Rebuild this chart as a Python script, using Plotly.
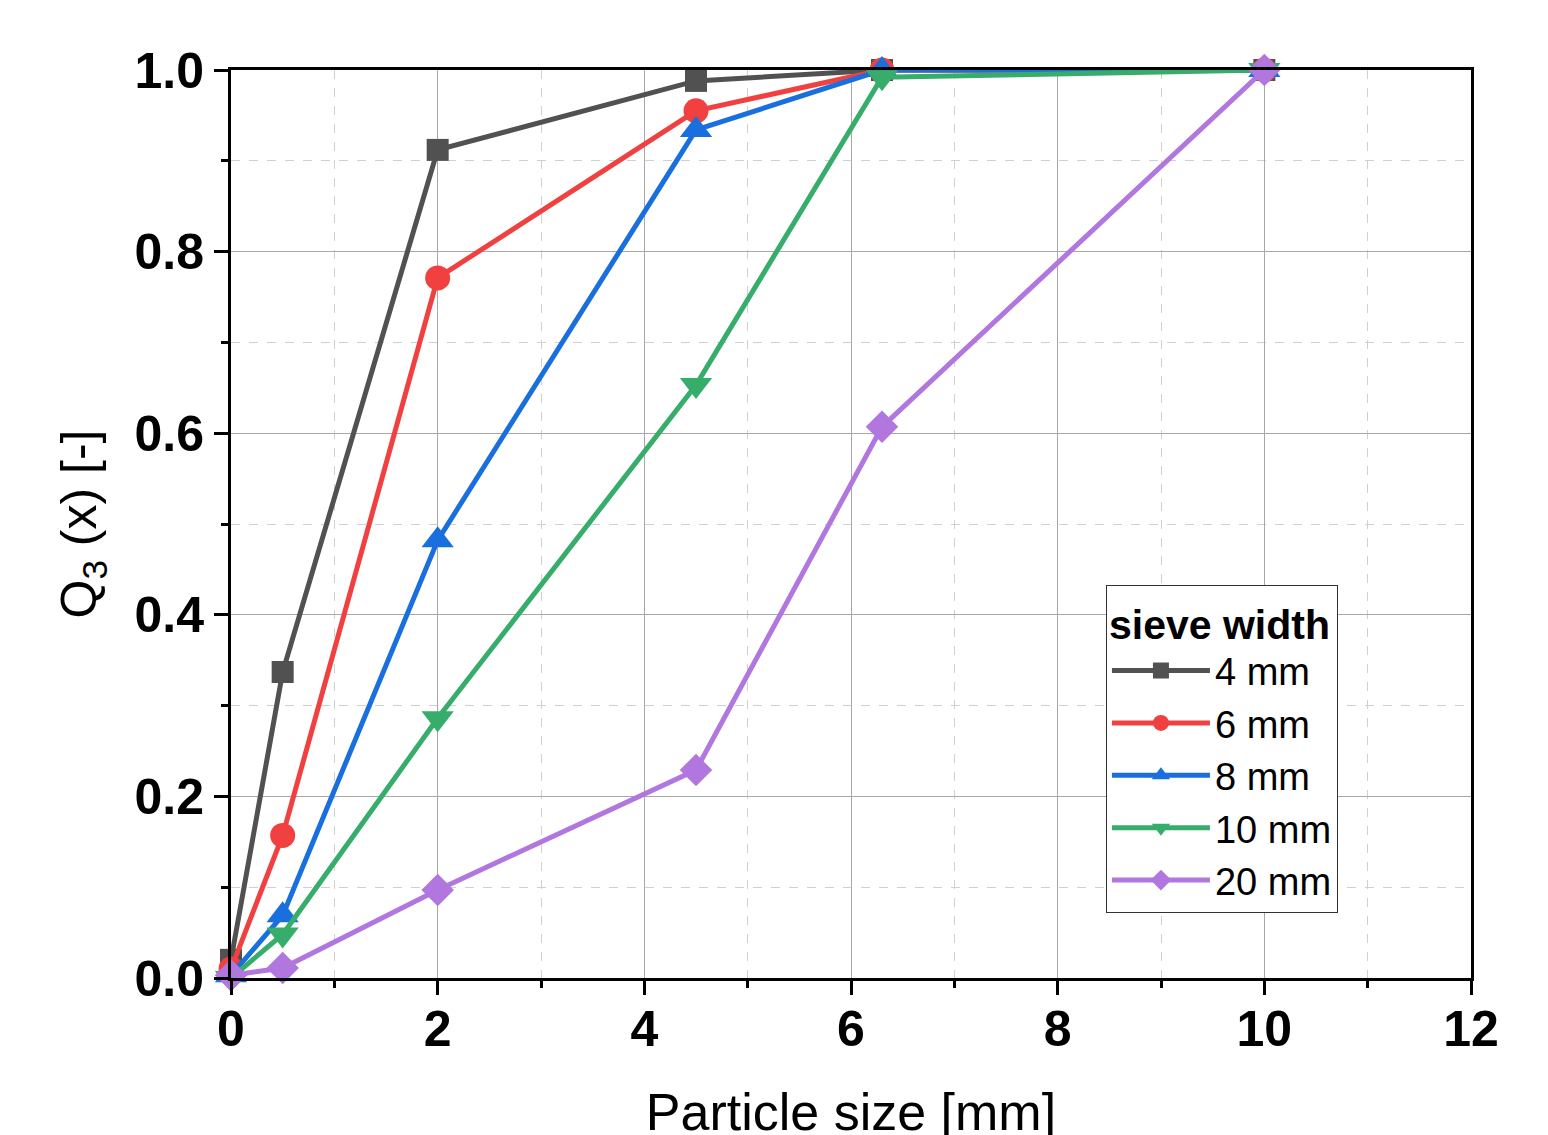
import plotly.graph_objects as go

x_sizes = [0, 0.5, 2, 4.5, 6.3, 10]
series_names = ["4 mm", "6 mm", "8 mm", "10 mm", "20 mm"]
q3_4mm = [0.02, 0.337, 0.912, 0.988, 1.0, 1.0]
q3_6mm = [0.01, 0.157, 0.771, 0.955, 1.0, 1.0]
q3_8mm = [0.003, 0.069, 0.482, 0.934, 1.0, 1.0]
q3_10mm = [0.0, 0.048, 0.286, 0.653, 0.992, 1.0]
q3_20mm = [0.003, 0.011, 0.097, 0.229, 0.607, 1.0]
series_values = [q3_4mm, q3_6mm, q3_8mm, q3_10mm, q3_20mm]
colors = ["#515151", "#F14040", "#1A6FDF", "#37AD6B", "#B177DE"]
symbols = ["square", "circle", "triangle-up", "triangle-down", "diamond"]
msizes = [22, 25, 28, 28, 25]

x_ticks = [0, 2, 4, 6, 8, 10, 12]
y_ticks = [0.0, 0.2, 0.4, 0.6, 0.8, 1.0]

FONT = "Liberation Sans, Arial, sans-serif"

fig = go.Figure()
for name, vals, c, s, ms in zip(series_names, series_values, colors, symbols, msizes):
    fig.add_trace(go.Scatter(
        x=x_sizes, y=vals, name=name, mode="lines+markers",
        line=dict(color=c, width=5),
        marker=dict(symbol=s, size=ms, color=c, line=dict(width=0)),
        cliponaxis=False,
    ))

axis_common = dict(showline=True, linecolor="black", linewidth=3, mirror=True,
                   ticks="outside", ticklen=14, tickwidth=3, tickcolor="black",
                   zeroline=False, showgrid=True, gridcolor="#a8a8a8", gridwidth=1,
                   automargin=False,
                   tickfont=dict(family=FONT, size=50, color="black", weight="bold"))

fig.update_layout(
    width=1548, height=1135,
    paper_bgcolor="white", plot_bgcolor="white",
    margin=dict(l=223, r=85, t=62, b=165, autoexpand=False),
    font=dict(family=FONT, color="black"),
    xaxis=dict(range=[0, 12], tickvals=x_ticks, ticktext=[str(v) for v in x_ticks],
               ticklabelstandoff=-9,
               title=dict(text="Particle size [mm]", font=dict(family=FONT, size=52), standoff=38),
               minor=dict(dtick=1, tick0=0, ticks="outside", ticklen=7, tickwidth=3, tickcolor="black",
                          showgrid=True, gridcolor="#d0d0d0", griddash="dash", gridwidth=1),
               **axis_common),
    yaxis=dict(range=[0, 1.0], tickvals=y_ticks, ticktext=[f"{v:.1f}" for v in y_ticks],
               title=dict(text="Q<sub>3</sub> (x) [-]", font=dict(family=FONT, size=50), standoff=22),
               minor=dict(dtick=0.1, tick0=0, ticks="outside", ticklen=7, tickwidth=3, tickcolor="black",
                          showgrid=True, gridcolor="#d0d0d0", griddash="dash", gridwidth=1),
               **axis_common),
    xaxis2=dict(overlaying="x", side="top", anchor="y", range=[0, 12], tickvals=x_ticks,
                ticks="inside", ticklen=14, tickwidth=3, tickcolor="black", automargin=False,
                showticklabels=False, showgrid=False, showline=False, zeroline=False,
                minor=dict(dtick=1, tick0=0, ticks="inside", ticklen=8, tickwidth=3, tickcolor="black", showgrid=False)),
    yaxis2=dict(overlaying="y", side="right", anchor="x", range=[0, 1.0], tickvals=y_ticks,
                ticks="inside", ticklen=14, tickwidth=3, tickcolor="black", automargin=False,
                showticklabels=False, showgrid=False, showline=False, zeroline=False,
                minor=dict(dtick=0.1, tick0=0, ticks="inside", ticklen=8, tickwidth=3, tickcolor="black", showgrid=False)),
    legend=dict(x=0.7056, y=0.4328, xanchor="left", yanchor="top",
                bgcolor="white", bordercolor="#333333", borderwidth=1,
                font=dict(family=FONT, size=38, color="black"),
                title=dict(text="<b>sieve width</b>", font=dict(family=FONT, size=41, color="black")),
                tracegroupgap=0, itemsizing="trace", itemwidth=98),
    showlegend=True,
    shapes=[dict(type="rect", xref="paper", yref="paper", x0=1.0589, x1=1.066, y0=-0.19, y1=1.08,
                 fillcolor="#9cc8d9", line=dict(width=0), layer="below")],
)

fig.write_html("out.html")
